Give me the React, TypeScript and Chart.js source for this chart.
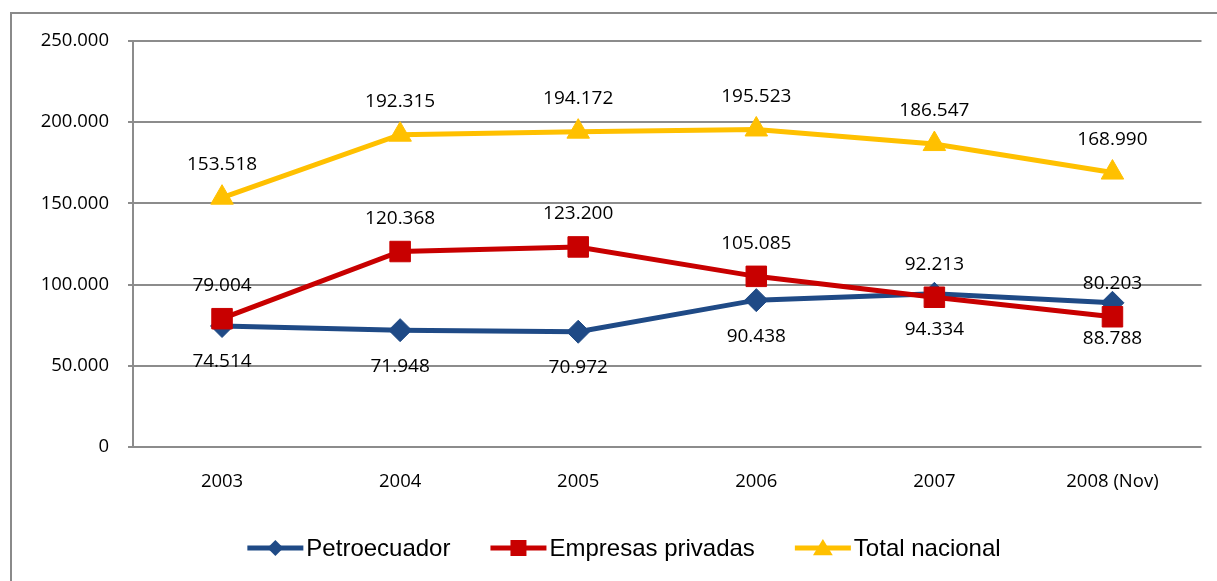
import React, { useEffect, useRef } from 'react';
import { Chart, registerables } from 'chart.js';

Chart.register(...registerables);

const categories = ['2003', '2004', '2005', '2006', '2007', '2008 (Nov)'];
const petroecuador = [74514, 71948, 70972, 90438, 94334, 88788];
const empresasPrivadas = [79004, 120368, 123200, 105085, 92213, 80203];
const totalNacional = [153518, 192315, 194172, 195523, 186547, 168990];
const seriesNames = ['Petroecuador', 'Empresas privadas', 'Total nacional'];
const yMin = 0;
const yMax = 250000;
const yStep = 50000;

const BLUE = '#1F4A86';
const RED = '#C80000';
const YELLOW = '#FFC000';
const GRID = '#8c8c8c';

const fmt = (v: number) => {
  if (v === 0) return '0';
  const th = Math.floor(v / 1000);
  const rest = String(Math.round(v % 1000)).padStart(3, '0');
  return th + '.' + rest;
};

function drawMarker(ctx: CanvasRenderingContext2D, style: string, x: number, y: number, s: number, color: string) {
  ctx.save();
  ctx.fillStyle = color;
  ctx.beginPath();
  if (style === 'rectRot') {
    ctx.moveTo(x, y - s);
    ctx.lineTo(x + s, y);
    ctx.lineTo(x, y + s);
    ctx.lineTo(x - s, y);
  } else if (style === 'rect') {
    ctx.rect(x - s, y - s, 2 * s, 2 * s);
  } else {
    ctx.moveTo(x, y - s);
    ctx.lineTo(x + s * 1.1, y + s * 0.8);
    ctx.lineTo(x - s * 1.1, y + s * 0.8);
  }
  ctx.closePath();
  ctx.fill();
  ctx.restore();
}

const framePlugin = {
  id: 'frame',
  beforeDraw(chart: any) {
    const ctx = chart.ctx as CanvasRenderingContext2D;
    ctx.save();
    ctx.fillStyle = '#ffffff';
    ctx.fillRect(0, 0, chart.width, chart.height);
    ctx.strokeStyle = '#8a8a8a';
    ctx.lineWidth = 2;
    ctx.beginPath();
    ctx.moveTo(11, chart.height + 2);
    ctx.lineTo(11, 13);
    ctx.lineTo(chart.width + 2, 13);
    ctx.stroke();
    ctx.restore();
  },
};

const labelPlugin = {
  id: 'valueLabels',
  afterDatasetsDraw(chart: any) {
    const ctx = chart.ctx as CanvasRenderingContext2D;
    ctx.save();
    ctx.font = '19px "Open Sans"';
    ctx.fillStyle = '#000000';
    ctx.textAlign = 'center';
    ctx.textBaseline = 'middle';
    chart.data.datasets.forEach((ds: any, i: number) => {
      const meta = chart.getDatasetMeta(i);
      meta.data.forEach((pt: any, j: number) => {
        ctx.fillText(fmt(ds.data[j]), pt.x, pt.y + ds.labelOffset);
      });
    });
    ctx.restore();
  },
};

const legendPlugin = {
  id: 'customLegend',
  afterDraw(chart: any) {
    const ctx = chart.ctx as CanvasRenderingContext2D;
    ctx.save();
    ctx.font = '24px "Liberation Sans"';
    ctx.textBaseline = 'middle';
    ctx.textAlign = 'left';
    const lineLen = 56;
    const gapText = 3;
    const gapItem = 40;
    const items = chart.data.datasets.map((ds: any) => ({
      label: ds.label,
      color: ds.borderColor,
      style: ds.pointStyle,
      w: lineLen + gapText + ctx.measureText(ds.label).width,
    }));
    const total = items.reduce((a: number, it: any) => a + it.w, 0) + gapItem * (items.length - 1);
    let x = 624 - total / 2;
    const y = 548;
    items.forEach((it: any) => {
      ctx.strokeStyle = it.color;
      ctx.lineWidth = 5;
      ctx.beginPath();
      ctx.moveTo(x, y);
      ctx.lineTo(x + lineLen, y);
      ctx.stroke();
      const ms = it.style === 'rect' ? 8 : it.style === 'rectRot' ? 8 : 9;
      drawMarker(ctx, it.style, x + lineLen / 2, y, ms, it.color);
      ctx.fillStyle = '#000000';
      ctx.fillText(it.label, x + lineLen + gapText, y + 1);
      x += it.w + gapItem;
    });
    ctx.restore();
  },
};

export default function App() {
  const ref = useRef<HTMLCanvasElement | null>(null);

  useEffect(() => {
    if (!ref.current) return;
    const chart = new Chart(ref.current, {
      type: 'line',
      data: {
        labels: categories,
        datasets: [
          {
            label: seriesNames[0],
            data: petroecuador,
            borderColor: BLUE,
            backgroundColor: BLUE,
            borderWidth: 5,
            pointStyle: 'rectRot',
            pointRadius: 11.5,
            pointBorderWidth: 1,
            tension: 0,
            order: 1,
            labelOffset: 36,
          } as any,
          {
            label: seriesNames[1],
            data: empresasPrivadas,
            borderColor: RED,
            backgroundColor: RED,
            borderWidth: 5,
            pointStyle: 'rect',
            pointRadius: 14.5,
            pointBorderWidth: 1,
            tension: 0,
            order: 0,
            labelOffset: -33,
          } as any,
          {
            label: seriesNames[2],
            data: totalNacional,
            borderColor: YELLOW,
            backgroundColor: YELLOW,
            borderWidth: 5,
            pointStyle: 'triangle',
            pointRadius: 13,
            pointBorderWidth: 1,
            tension: 0,
            order: 2,
            labelOffset: -33,
          } as any,
        ],
      },
      options: {
        responsive: false,
        animation: false,
        layout: { padding: { top: 41, right: 15, left: 0, bottom: 0 } },
        plugins: {
          legend: { display: false },
          tooltip: { enabled: false },
          title: { display: false },
        },
        scales: {
          x: {
            type: 'category',
            offset: true,
            grid: { display: false, drawTicks: false },
            border: { display: false },
            ticks: {
              color: '#000000',
              font: { family: '"Open Sans"', size: 18.5 },
              padding: 24,
              maxRotation: 0,
              autoSkip: false,
            },
            afterFit: (s: any) => {
              s.height = 134;
            },
          },
          y: {
            min: yMin,
            max: yMax,
            grid: {
              color: GRID,
              lineWidth: 2,
              drawTicks: true,
              tickLength: 5,
            },
            border: { display: true, color: GRID, width: 2 },
            ticks: {
              stepSize: yStep,
              color: '#000000',
              font: { family: '"Open Sans"', size: 18.5 },
              padding: 19,
              callback: (v: any) => fmt(Number(v)),
            },
            afterFit: (s: any) => {
              s.width = 133;
            },
          },
        },
      },
      plugins: [framePlugin, labelPlugin, legendPlugin],
    });
    return () => chart.destroy();
  }, []);

  return (
    <canvas
      ref={ref}
      width={1217}
      height={581}
      style={{ position: 'fixed', left: 0, top: 0, display: 'block', width: 1217, height: 581 }}
    />
  );
}
